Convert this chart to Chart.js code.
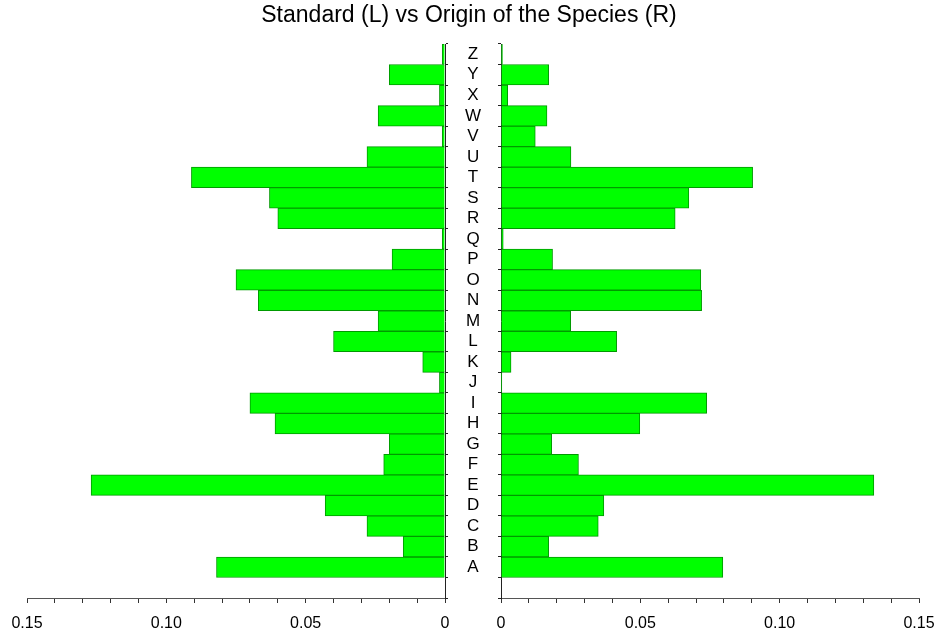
<!DOCTYPE html>
<html>
<head>
<meta charset="utf-8">
<script src="https://cdn.jsdelivr.net/npm/chart.js@4.4.0/dist/chart.umd.min.js"></script>
<style>
  html, body { margin: 0; padding: 0; background: #fff; }
  #wrap { position: relative; width: 938px; height: 635px; }
  #wrap canvas { position: absolute; left: 0; top: 0; }
</style>
</head>
<body>
<div id="wrap">
  <canvas id="leftChart" width="938" height="635"></canvas>
  <canvas id="rightChart" width="938" height="635"></canvas>
</div>
<script>
const letters = ['A', 'B', 'C', 'D', 'E', 'F', 'G', 'H', 'I', 'J', 'K', 'L', 'M',
                 'N', 'O', 'P', 'Q', 'R', 'S', 'T', 'U', 'V', 'W', 'X', 'Y', 'Z'];
// letter frequencies, left = standard English, right = Origin of the Species
const standardFreq = [0.082, 0.015, 0.028, 0.043, 0.127, 0.022, 0.020, 0.061, 0.070, 0.002, 0.008, 0.040, 0.024,
                      0.067, 0.075, 0.019, 0.001, 0.060, 0.063, 0.091, 0.028, 0.001, 0.024, 0.002, 0.020, 0.001];
const originFreq = [0.0796, 0.0171, 0.0349, 0.0369, 0.1338, 0.0278, 0.0182, 0.0498, 0.0738, 0.0003, 0.0036, 0.0415, 0.0250,
                    0.0720, 0.0717, 0.0185, 0.0008, 0.0625, 0.0674, 0.0903, 0.0251, 0.0123, 0.0165, 0.0024, 0.0171, 0.0005];
const xTickLabels = [0, 0.05, 0.10, 0.15];

const font = "Arial, 'Liberation Sans', sans-serif";
Chart.defaults.font.family = font;
Chart.defaults.color = '#000';

// an empty slot under A, like the original
const yLabels = [''].concat(letters);

function xAxis(reverse) {
    return {
        type: 'linear',
        reverse: reverse,
        min: 0,
        max: 0.15,
        grid: { drawOnChartArea: false, drawTicks: true, tickLength: 5, color: '#333' },
        border: { display: true, color: '#555' },
        ticks: {
            stepSize: 0.01,
            autoSkip: false,
            maxRotation: 0,
            padding: 11,
            font: { size: 16 },
            callback: v => {
                const hit = xTickLabels.some(t => Math.abs(t - v) < 1e-9);
                if (!hit) return '';
                return v === 0 ? '0' : v.toFixed(2);
            }
        },
        afterFit: s => {
            s.height = 37;
            s.paddingLeft = 0;
            s.paddingRight = 0;
        }
    };
}

function dataset(values) {
    return {
        data: [null].concat(values),
        backgroundColor: '#00ff00',
        borderColor: '#009a00',
        borderWidth: 1,
        barPercentage: 1,
        categoryPercentage: 1
    };
}

const leftChart = new Chart(document.getElementById('leftChart'), {
    type: 'bar',
    data: { labels: yLabels, datasets: [dataset(standardFreq)] },
    options: {
        indexAxis: 'y',
        responsive: false,
        animation: false,
        layout: { padding: { left: 27, right: 27, top: 0, bottom: 0 } },
        plugins: {
            legend: { display: false },
            tooltip: { enabled: false },
            title: {
                display: true,
                text: 'Standard (L) vs Origin of the Species (R)',
                color: '#000',
                font: { size: 23, weight: 'normal' },
                padding: { top: 2, bottom: 14.4 }
            }
        },
        scales: {
            x: xAxis(true),
            y: {
                position: 'right',
                reverse: true,
                grid: { drawOnChartArea: false, tickLength: 3, color: '#222' },
                border: { display: true, color: '#222' },
                ticks: { crossAlign: 'center', padding: 17, font: { size: 17 }, color: '#000', autoSkip: false },
                afterFit: s => { s.width = 466; }
            }
        }
    }
});

const rightChart = new Chart(document.getElementById('rightChart'), {
    type: 'bar',
    data: { labels: yLabels, datasets: [dataset(originFreq)] },
    options: {
        indexAxis: 'y',
        responsive: false,
        animation: false,
        layout: { padding: { left: 491, right: 19, top: 44, bottom: 0 } },
        plugins: {
            legend: { display: false },
            tooltip: { enabled: false }
        },
        scales: {
            x: xAxis(false),
            y: {
                position: 'left',
                reverse: true,
                grid: { drawOnChartArea: false, tickLength: 3, color: '#222' },
                border: { display: true, color: '#222' },
                ticks: { display: false },
                afterFit: s => { s.width = 10; }
            }
        }
    }
});
</script>
</body>
</html>
